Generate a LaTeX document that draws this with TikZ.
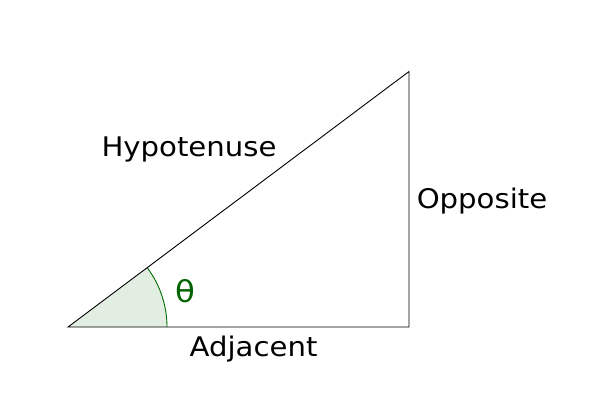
\documentclass[tikz,border=0pt]{standalone}
\usepackage{fontspec}
\setmainfont[FakeStretch=1.08]{DejaVu Sans}
\definecolor{arcgreen}{RGB}{0,110,0}
\definecolor{arcfill}{RGB}{226,238,226}
\definecolor{thetagreen}{RGB}{0,100,0}
\tikzset{
  lbl/.style={inner sep=0pt, anchor=base, font=\fontsize{27}{30}\selectfont},
  side/.style={draw=black, line width=0.9pt, line join=miter},
}
\begin{document}
\begin{tikzpicture}[x=1pt,y=-1pt]
\useasboundingbox (0,0) rectangle (610,416);
\coordinate (A) at (68,327);
\coordinate (B) at (409,327);
\coordinate (C) at (409,71.5);
\fill[arcfill] (A) -- (167,327) arc[start angle=0, end angle=-36.84, radius=99] -- cycle;
\draw[arcgreen, line width=0.9pt] (167,327) arc[start angle=0, end angle=-36.84, radius=99];
\draw[side] (A) -- (B) -- (C) -- cycle;
\node[lbl] (hyp) at (189,156) {Hypotenuse};
\node[lbl] (opp) at (482,208.5) {Opposite};
\node[lbl] (adj) at (253.5,356.7) {Adjacent};
\node[lbl, text=thetagreen, font=\fontsize{30}{32}\selectfont] (theta) at (185,302) {θ};
\end{tikzpicture}
\end{document}
